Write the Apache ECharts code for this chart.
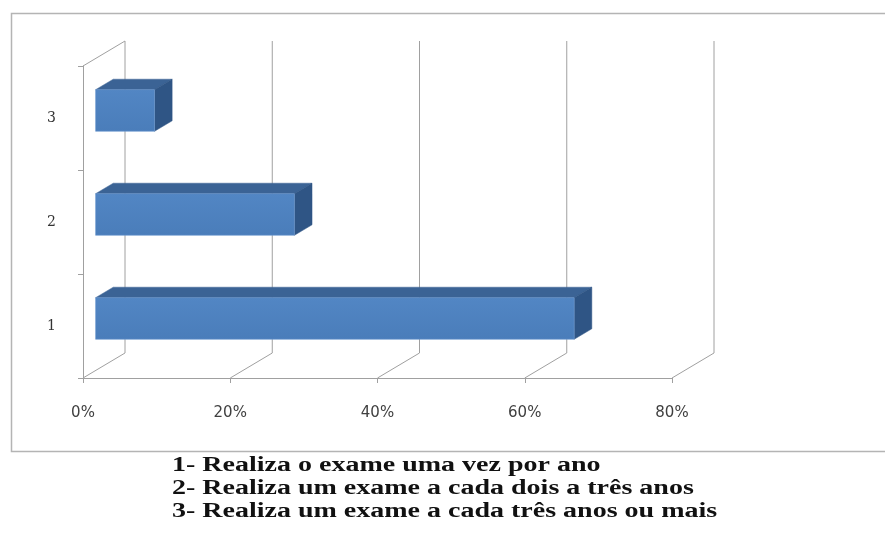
<!DOCTYPE html>
<html>
<head>
<meta charset="utf-8">
<script src="https://cdn.jsdelivr.net/npm/echarts@6/dist/echarts.min.js"></script>
<style>
html,body{margin:0;padding:0;background:#fff;}
#chart{width:885px;height:550px;}
</style>
</head>
<body>
<div id="chart"></div>
<script>
// ---- data ----
const categories = ['1', '2', '3'];
const values = [65, 27, 8];
const xTicks = [0, 20, 40, 60, 80];
const legendLines = [
  '1- Realiza o exame uma vez por ano',
  '2- Realiza um exame a cada dois a três anos',
  '3- Realiza um exame a cada três anos ou mais'
];

// ---- 3D look (style) ----
const DX = 42, DY = 25;       // full depth of the 3D box in pixels
const F0 = 0.30, F1 = 0.72;   // depth range occupied by bars
const BAR_FRAC = 0.40;        // bar height relative to category band
const AXIS_COLOR = '#a0a0a0';

const chart = echarts.init(document.getElementById('chart'), null, {renderer: 'canvas'});

const legendGraphics = legendLines.map((t, i) => ({
  type: 'text', x: 172, y: 456 + i * 23, scaleX: 1.4, silent: true,
  style: {
    text: t, fontFamily: 'Liberation Serif', fontWeight: 'bold',
    fontSize: 20, fill: '#111', textVerticalAlign: 'top'
  }
}));

const option = {
  animation: false,
  backgroundColor: '#ffffff',
  grid: {left: 83, top: 66, width: 589, height: 312},
  xAxis: {
    type: 'value', min: 0, max: 80, interval: 20,
    axisLine: {show: true, lineStyle: {color: AXIS_COLOR, width: 1}},
    axisTick: {show: true, length: 5, lineStyle: {color: AXIS_COLOR}},
    splitLine: {show: false},
    axisLabel: {
      formatter: v => v + '%', margin: 28,
      fontFamily: 'DejaVu Sans', fontSize: 15, color: '#404040'
    }
  },
  yAxis: {
    type: 'category', data: categories,
    axisLine: {show: true, lineStyle: {color: AXIS_COLOR, width: 1}},
    axisTick: {show: true, length: 5, lineStyle: {color: AXIS_COLOR}},
    axisLabel: {margin: 27, fontFamily: 'DejaVu Serif', fontSize: 14, color: '#333'}
  },
  graphic: [{
    type: 'rect', left: 9, top: 11, silent: true,
    shape: {width: 890, height: 438},
    style: {fill: 'none', stroke: '#b4b4b4', lineWidth: 1.5}
  }].concat(legendGraphics),
  series: [
    {
      type: 'custom', z: 1,
      data: xTicks.map(v => [v]),
      encode: {x: 0},
      renderItem: (params, api) => {
        const cs = params.coordSys;
        const v = api.value(0);
        const x = api.coord([v, 0])[0];
        const bottom = cs.y + cs.height, top = cs.y;
        const ls = {stroke: AXIS_COLOR, lineWidth: 1, fill: 'none'};
        const children = [
          {type: 'line', shape: {x1: x, y1: bottom, x2: x + DX, y2: bottom - DY}, style: ls},
          {type: 'line', shape: {x1: x + DX, y1: bottom - DY, x2: x + DX, y2: top - DY}, style: ls}
        ];
        if (params.dataIndex === 0) {
          children.push({type: 'line', shape: {x1: x, y1: top, x2: x + DX, y2: top - DY}, style: ls});
        }
        return {type: 'group', children};
      }
    },
    {
      type: 'custom', z: 5,
      data: values.map((v, i) => [v, i]),
      encode: {x: 0, y: 1},
      renderItem: (params, api) => {
        const val = api.value(0), cat = api.value(1);
        const p0 = api.coord([0, cat]);
        const p1 = api.coord([val, cat]);
        const band = api.size([0, 1])[1];
        const h = band * BAR_FRAC;
        const fx = DX * F0, fy = -DY * F0;
        const dx = DX * (F1 - F0), dy = -DY * (F1 - F0);
        const x0 = p0[0] + fx, x1 = p1[0] + fx;
        const yT = p0[1] - h / 2 + fy, yB = yT + h;
        return {
          type: 'group',
          children: [
            {type: 'polygon', shape: {points: [[x0, yT], [x1, yT], [x1 + dx, yT + dy], [x0 + dx, yT + dy]]},
             style: {fill: '#3b6395', stroke: '#3b6395', lineWidth: 0.5}},
            {type: 'polygon', shape: {points: [[x1, yT], [x1 + dx, yT + dy], [x1 + dx, yB + dy], [x1, yB]]},
             style: {fill: '#2f5585', stroke: '#2f5585', lineWidth: 0.5}},
            {type: 'rect', shape: {x: x0, y: yT, width: x1 - x0, height: h},
             style: {fill: new echarts.graphic.LinearGradient(0, 0, 0, 1, [
               {offset: 0, color: '#5286c4'}, {offset: 1, color: '#4a7dba'}]),
               stroke: '#6f9ad0', lineWidth: 0.6}}
          ]
        };
      }
    }
  ]
};
chart.setOption(option);
</script>
</body>
</html>
